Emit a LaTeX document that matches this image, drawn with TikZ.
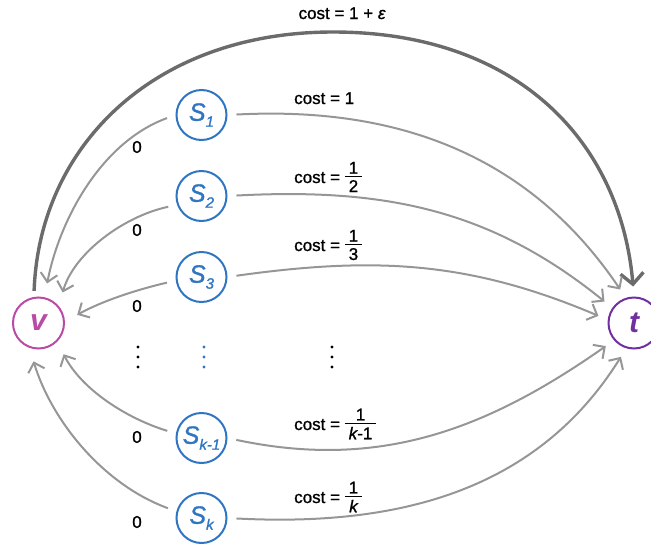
\documentclass[tikz,border=0pt]{standalone}
\usepackage{fontspec}
\setmainfont{Liberation Sans}
\newfontface\lblfont{Liberation Sans}[FakeBold=1.1]
\newfontface\lblit{Liberation Sans Italic}[FakeBold=1.1]
\newfontface\sitfont{Liberation Sans Italic}[FakeBold=1.2]
\usetikzlibrary{arrows.meta}
\definecolor{sblue}{HTML}{2F75C1}
\definecolor{vmag}{HTML}{B84BA6}
\definecolor{tpur}{HTML}{7030A0}
\definecolor{egray}{HTML}{969696}
\definecolor{tgray}{HTML}{6B6B6B}
\newcommand\mysub[1]{\raisebox{-6pt}{\fontsize{15}{15}\selectfont\sitfont #1}}
\newcommand\myfrac[2]{\raisebox{\dimexpr 6pt-0.5\height+0.5\depth\relax}{\vbox{\halign{\hfil\hskip4pt##\hskip4pt\hfil\cr#1\cr\noalign{\kern2.5pt\hrule height 1pt\kern3pt}#2\cr}}}}
\begin{document}
\begin{tikzpicture}[x=1pt,y=1pt,
  snode/.style={circle, draw=sblue, line width=2pt, text=sblue, minimum size=50pt, inner sep=0pt,
    font=\fontsize{25}{25}\selectfont\sitfont},
  vnode/.style={circle, draw=vmag, line width=2pt, text=vmag, minimum size=51pt, inner sep=0pt,
    font=\fontsize{30}{30}\selectfont\bfseries\itshape},
  tnode/.style={circle, draw=tpur, line width=2pt, text=tpur, minimum size=51pt, inner sep=0pt,
    font=\fontsize{30}{30}\selectfont\bfseries\itshape},
  edge/.style={draw=egray, line width=2pt, -{Straight Barb[length=8.5pt,width=17pt]},
    shorten <=9pt, shorten >=10pt},
  ledge/.style={edge, looseness=0.9, shorten >=14pt},
  bigedge/.style={draw=tgray, line width=3.4pt, -{Straight Barb[length=11pt,width=23pt]},
    shorten <=6pt, shorten >=10pt},
  lbl/.style={font=\fontsize{17}{17}\selectfont\lblfont, inner sep=0pt},
]
\useasboundingbox (0,0) rectangle (651,-544);

\node[vnode] (v) at (38.5,-323) {v};
\node[tnode] (t) at (634,-323) {t};
\node[snode] (s1) at (201.5,-115) {S\mysub{1}};
\node[snode] (s2) at (201.5,-196) {S\mysub{2}};
\node[snode] (s3) at (201.5,-277) {S\mysub{3}};
\node[snode] (sk1) at (201.5,-438) {S\mysub{k-1}};
\node[snode] (sk) at (201.5,-518) {S\mysub{k}};

\coordinate (top) at (333,-32);
\draw[bigedge] (v.100) to[out=88,in=180,out distance=150pt,in distance=180pt] (top)
  to[out=0,in=95,out distance=185pt,in distance=155pt] (t.90);

\draw[ledge] (s1.180) to[out=200,in=79] (v.77);
\draw[ledge] (s2.200) to[out=192,in=74] (v.40);
\draw[ledge] (s3.188) to[out=193,in=29] (v.3);
\draw[ledge] (sk1.170) to[out=163,in=297] (v.-45);
\draw[ledge] (sk.165) to[out=160,in=287] (v.250);

\draw[edge] (s1.0) to[out=3,in=124] (t.108);
\draw[edge] (s2.0) to[out=3,in=141] (t.145);
\draw[edge] (s3.0) to[out=8,in=157] (t.173);
\draw[edge] (sk1.0) to[out=-12,in=215] (t.221);
\draw[edge] (sk.0) to[out=-3,in=238] (t.253);

\node[lbl, anchor=base] (c0) at (342,-19) {cost = 1 + {\lblit ε}};
\node[lbl, anchor=base west] (c1) at (294,-104) {cost = 1};
\node[lbl, anchor=base west] (c2) at (294,-183) {cost = \myfrac{1}{2}};
\node[lbl, anchor=base west] (c3) at (294,-251) {cost = \myfrac{1}{3}};
\node[lbl, anchor=base west] (c4) at (294,-430) {cost = \myfrac{1}{{\lblit k}-1}};
\node[lbl, anchor=base west] (c5) at (294,-503) {cost = \myfrac{1}{{\lblit k}}};

\node[lbl] (z1) at (137,-147) {0};
\node[lbl] (z2) at (137,-230) {0};
\node[lbl] (z3) at (137,-306) {0};
\node[lbl] (z4) at (137,-437) {0};
\node[lbl] (z5) at (137,-522) {0};

\foreach \x/\c in {138/black, 204/sblue, 332/black}
  \foreach \y in {-347,-357,-367}
    \fill[\c] (\x,\y) circle (1.6pt);
\end{tikzpicture}
\end{document}
